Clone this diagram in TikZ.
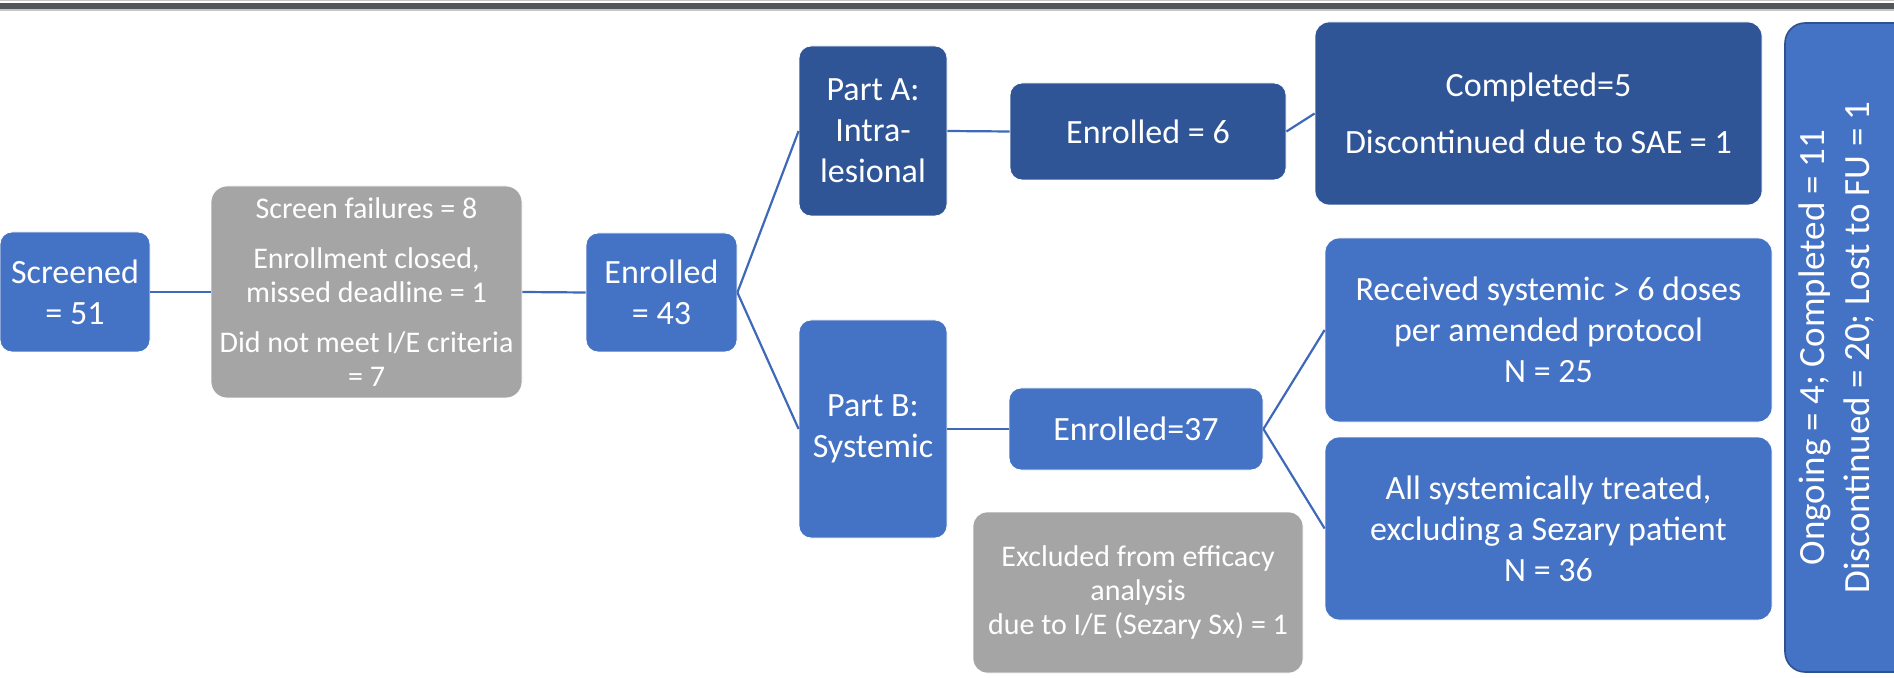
\documentclass[tikz,border=0pt]{standalone}
\usepackage{fontspec}
\setmainfont{Carlito}
\usepackage{tikz}
\usetikzlibrary{calc}
\definecolor{midblue}{HTML}{4472C4}
\definecolor{deepblue}{HTML}{2F5597}
\definecolor{boxgray}{HTML}{A5A5A5}
\definecolor{linkblue}{HTML}{3E69B8}
\definecolor{edgeblue}{HTML}{2F528F}
\definecolor{bandgray}{HTML}{53575A}
\tikzset{
    box/.style={rounded corners=6pt, draw=white, line width=0.4pt, text=white,
        align=center, inner sep=0pt, font=\fontsize{17}{20.5}\selectfont},
    bluebox/.style={box, fill=midblue},
    darkbox/.style={box, fill=deepblue},
    graybox/.style={box, fill=boxgray, font=\fontsize{15}{17}\selectfont},
    link/.style={draw=linkblue, line width=1.1pt}
}

\begin{document}
\begin{tikzpicture}[x=0.5pt, y=-0.5pt]
\useasboundingbox (0,0) rectangle (1894,678);

%band
\fill[bandgray] (0,3.3) rectangle (1894,9.3);
\draw[gray!45, line width=0.6pt] (0,0.6) -- (1894,0.6);
\draw[gray!45, line width=0.8pt] (0,10.2) -- (1894,10.2);

%screening
\node[bluebox, minimum width=75pt, minimum height=60pt] (scr) at (75,292) {Screened\\= 51};
\node[graybox, rounded corners=8pt, minimum width=155.5pt, minimum height=106pt] (fail) at (366.5,292)
    {Screen failures = 8\\[8pt]Enrollment closed,\\missed deadline = 1\\[8pt]Did not meet I/E criteria\\= 7};
\node[bluebox, minimum width=75.5pt, minimum height=59.5pt] (enr) at (661.5,292.5) {Enrolled\\= 43};

%part A
\node[darkbox, minimum width=74pt, minimum height=85pt] (partA) at (873,131) {Part A:\\Intra-\\lesional};
\node[darkbox, minimum width=138pt, minimum height=48.5pt] (enrA) at (1148,131.5) {Enrolled = 6};
\node[darkbox, rounded corners=7pt, minimum width=223.5pt, minimum height=91.5pt] (doneA) at (1538.5,113.5)
    {Completed=5\\[8pt]Discontinued due to SAE = 1};

%part B
\node[bluebox, minimum width=74pt, minimum height=109pt] (partB) at (873,429) {Part B:\\Systemic};
\node[bluebox, minimum width=127pt, minimum height=41pt] (enrB) at (1136,429) {Enrolled=37};
\node[bluebox, rounded corners=7pt, minimum width=223.5pt, minimum height=92pt] (recv) at (1548.5,330)
    {Received systemic > 6 doses\\per amended protocol\\N = 25};
\node[bluebox, rounded corners=7pt, minimum width=223.5pt, minimum height=91.5pt] (allsys) at (1548.5,528.5)
    {All systemically treated,\\excluding a Sezary patient\\N = 36};
\node[graybox, rounded corners=7pt, minimum width=165pt, minimum height=80.5pt] (excl) at (1138,592.5)
    {Excluded from efficacy\\analysis\\due to I/E (Sezary Sx) = 1};

%totals
\begin{scope}
\clip (0,0) rectangle (1894,678);
\node[fill=midblue, draw=edgeblue, line width=0.8pt, rounded corners=10pt, inner sep=0pt,
    minimum width=70pt, minimum height=324.5pt] (tot) at (1855,347.5) {};
\end{scope}
\node[rotate=90, text=white, align=center, inner sep=0pt, font=\fontsize{18.5}{22.5}\selectfont] (totext) at (1836,347.5)
    {Ongoing = 4; Completed = 11\\Discontinued = 20; Lost to FU = 1};

%links
\draw[link] (scr.east) -- (fail.west);
\draw[link] (fail.east) -- (enr.west);
\draw[link] (enr.east) -- (partA.west);
\draw[link] (enr.east) -- (partB.west);
\draw[link] (partA.east) -- (enrA.west);
\draw[link] (enrA.east) -- (doneA.west);
\draw[link] (partB.east) -- (enrB.west);
\draw[link] (enrB.east) -- (recv.west);
\draw[link] (enrB.east) -- (allsys.west);

\end{tikzpicture}
\end{document}
